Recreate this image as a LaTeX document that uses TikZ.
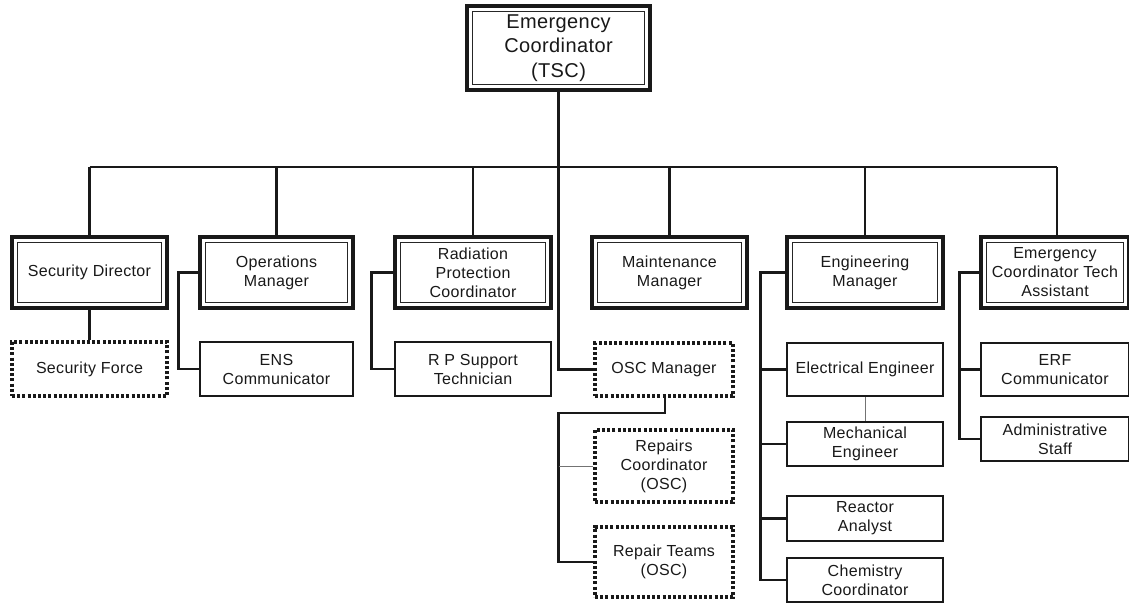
\documentclass[tikz,border=0pt]{standalone}
\usepackage{fontspec}
\setmainfont[LetterSpace=2]{Liberation Sans}
\begin{document}
\begin{tikzpicture}[x=0.75pt,y=-0.75pt,
  wh/.style 2 args={minimum width=#1*0.75pt, minimum height=#2*0.75pt},
  conn/.style={line width=2.2pt, draw=black!90},
  thinconn/.style={line width=0.6pt, draw=black!55},
  basebox/.style={align=center, inner sep=0pt, text=black!90,
    font=\fontsize{12pt}{14.25pt}\selectfont},
  bossbox/.style={basebox, draw=black!90, line width=2.8pt,
    path picture={\draw[line width=0.8pt, black!85]
      ([xshift=3.8pt,yshift=-3.8pt]path picture bounding box.north west) rectangle
      ([xshift=-3.8pt,yshift=3.8pt]path picture bounding box.south east);}},
  plainbox/.style={basebox, draw=black!90, line width=2.1pt},
  dotbox/.style={basebox, draw=black!90, line width=2.3pt, dash pattern=on 2.2pt off 1.7pt}
]
\useasboundingbox (0,0) rectangle (1129,604);
\fill[white] (0,0) rectangle (1129,604);

% top
\node[bossbox, wh={183}{84}, font=\fontsize{15pt}{18.4pt}\selectfont] (top) at (558.5,48) {Emergency\\Coordinator\\(TSC)};

% level 2
\node[bossbox, wh={155}{71}] (sd) at (89.5,272.5) {Security Director};
\node[bossbox, wh={153}{71}] (om) at (276.5,272.5) {Operations\\Manager};
\node[bossbox, wh={156}{71}] (rp) at (473,272.5) {Radiation\\Protection\\Coordinator};
\node[bossbox, wh={155}{71}] (mm) at (669.5,272.5) {Maintenance\\Manager};
\node[bossbox, wh={156}{71}] (em) at (865,272.5) {Engineering\\Manager};
\node[bossbox, wh={148}{71}] (ecta) at (1055,272.5) {Emergency\\Coordinator Tech\\Assistant};

% level 3
\node[dotbox, wh={155}{54}] (sf) at (89.5,369) {Security Force};
\node[plainbox, wh={153}{54}] (ens) at (276.5,369) {ENS\\Communicator};
\node[plainbox, wh={156}{54}] (rps) at (473,369) {R P Support\\Technician};
\node[dotbox, wh={138}{53}] (osc) at (664,369.5) {OSC Manager};
\node[dotbox, wh={138}{72}] (rc) at (664,466) {Repairs\\Coordinator\\(OSC)};
\node[dotbox, wh={138}{70}] (rt) at (664,562) {Repair Teams\\(OSC)};
\node[plainbox, wh={156}{53}] (ee) at (865,369.5) {Electrical Engineer};
\node[plainbox, wh={156}{44}] (me) at (865,444) {Mechanical\\Engineer};
\node[plainbox, wh={156}{45}] (ra) at (865,518.5) {Reactor\\Analyst};
\node[plainbox, wh={156}{44}] (cc) at (865,580) {Chemistry\\Coordinator};
\node[plainbox, wh={148}{53}] (erf) at (1055,369.5) {ERF\\Communicator};
\node[plainbox, wh={148}{44}] (as) at (1055,439) {Administrative\\Staff};

% bus
\coordinate (bus) at (89,167);
\draw[conn] (sd.north |- bus) -- (1057,167);
\draw[conn] (top.south) |- (osc.west);
\draw[conn] (sd.north) -- (sd.north |- bus);
\draw[conn] (om.north) -- (om.north |- bus);
\draw[conn] (rp.north) -- (rp.north |- bus);
\draw[conn] (mm.north) -- (mm.north |- bus);
\draw[conn] (em.north) -- (em.north |- bus);
\draw[conn] ([xshift=1.5pt]ecta.north) -- ([xshift=1.5pt]ecta.north |- bus);

% security
\draw[conn] (sd.south) -- (sf.north);
% operations
\draw[conn] (om.west) -- ++(-20,0) |- (ens.west);
% radiation
\draw[conn] (rp.west) -- ++(-22,0) |- (rps.west);
% OSC
\coordinate (oscb) at (558.5,413);
\draw[conn] ([xshift=0.75pt]osc.south) |- (oscb) |- (rt.west);
\draw[thinconn] (rc.west) -- (rc.west -| oscb);
% engineering
\draw[conn] (em.west) -- ++(-25,0) |- (cc.west);
\draw[conn] (ee.west) -- ++(-25,0);
\draw[conn] (me.west) -- ++(-25,0);
\draw[conn] (ra.west) -- ++(-25,0);
\draw[thinconn] (ee.south) -- (me.north);
% tech assistant
\draw[conn] (ecta.west) -- ++(-20,0) |- (as.west);
\draw[conn] (erf.west) -- ++(-20,0);
\end{tikzpicture}
\end{document}
